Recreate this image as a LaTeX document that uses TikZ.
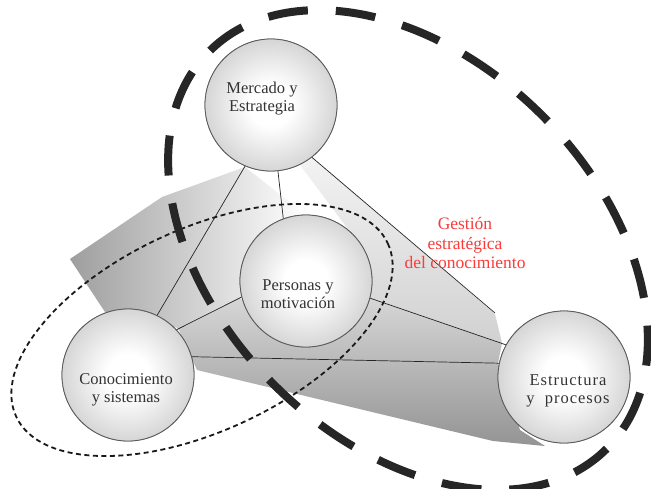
\documentclass[tikz,border=0pt]{standalone}
\usepackage{fontspec}
\setmainfont{Liberation Serif}
\pgfdeclareradialshading{sphere}{\pgfpointorigin}{color(0bp)=(white); color(8bp)=(white); color(50bp)=(black!40)}
\definecolor{gred}{RGB}{250,60,60}
\tikzset{
  ball/.style={circle, minimum size=132pt, inner sep=0pt, draw=black!65, line width=0.8pt, shading=sphere},
  lbl/.style={align=center, font=\fontsize{16.5}{18}\selectfont, text=black!80},
  wlbl/.style={lbl, font=\fontsize{16.5}{18}\selectfont\addfontfeature{LetterSpace=6}},
  glbl/.style={align=center, font=\fontsize{17.5}{19.5}\selectfont, text=gred},
  link/.style={draw=black!85, line width=0.7pt},
  bigdash/.style={draw=black!85, line width=8pt, dash pattern=on 40pt off 28pt},
  smalldash/.style={draw=black!90, line width=1.8pt, dash pattern=on 5pt off 3.5pt}
}
\begin{document}
\begin{tikzpicture}[x=1pt, y=-1pt]
\useasboundingbox (0,0) rectangle (651,488);
\fill[white] (0,0) rectangle (651,488);
% shaded faces
\shade[left color=black!38, right color=white]
  (70,259) -- (162,197) -- (245,167) -- (306,215) -- (240,298) -- (178,328) -- (105,312) -- cycle;
\shade[top color=black!5, bottom color=black!18]
  (300,165) -- (313,158) -- (495,314) -- (502,343) -- (371,298) -- (372,270) -- (345,225) -- cycle;
\shade[top color=black!16, bottom color=black!42]
  (178,328) -- (240,298) -- (306,347) -- (371,298) -- (502,343) -- (498,363) -- (520,430) -- (545,446) -- (493,441) -- (197,370) -- cycle;
% circles
\node[ball] (m) at (271,105) {};
\node[ball] (p) at (306,281) {};
\node[ball] (c) at (128,375) {};
\node[ball] (e) at (564,377) {};
\coordinate (me) at (495,313);
% connectors
\path[link] (m.-113) -- (c.64);
\path[link] (m.-84) -- (p.110);
\path[link] (m.-52) -- (me);
\path[link] (p.-166) -- (c.43);
\path[link] (p.-15) -- (e.151);
\path[link] (c.16) -- (e.168);
% redraw circles on top
\node[ball] at (m.center) {};
\node[ball] at (p.center) {};
\node[ball] at (c.center) {};
\node[ball] at (e.center) {};
% labels
\node[lbl] (mt) at (262,99) {Mercado y\\Estrategia};
\node[lbl] (pt) at (298,294) {Personas y\\motivación};
\node[lbl] (ct) at (126,390) {Conocimiento\\y sistemas};
\node[wlbl] (et) at (568,391) {Estructura\\y\ \ procesos};
\node[glbl] (g) at (465,243) {Gestión\\estratégica\\del conocimiento};
% ellipses
\draw[smalldash, rotate around={25:(202,330)}] (202,330) ellipse [x radius=205, y radius=101];
\draw[bigdash, rotate around={-45:(408,250)}] (408,250) ellipse [x radius=281, y radius=190];
\end{tikzpicture}
\end{document}
